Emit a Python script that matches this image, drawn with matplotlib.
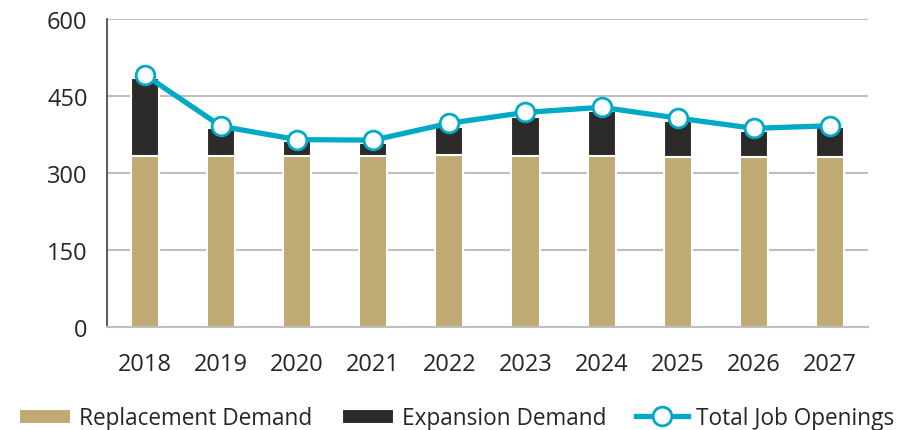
import matplotlib.pyplot as plt
import numpy as np

plt.rcParams['font.family'] = ['Open Sans', 'DejaVu Sans']

years = ['2018', '2019', '2020', '2021', '2022', '2023', '2024', '2025', '2026', '2027']
replacement = [334, 333, 334, 333, 335, 333, 334, 332, 331, 332]
expansion = [152, 55, 29, 25, 54, 77, 86, 70, 51, 57]
total = [491, 391, 365, 364, 397, 418, 428, 407, 387, 392]

fig = plt.figure(figsize=(9.19, 4.31), dpi=100)
ax = fig.add_axes([0.1164, 0.239, 0.828, 0.7146])

x = np.arange(len(years))
w = 0.37
b1 = ax.bar(x, replacement, w, color='#BFAA74', edgecolor='white', linewidth=1.5,
            label='Replacement Demand', zorder=2)
b2 = ax.bar(x, expansion, w, bottom=replacement, color='#2D2B29', edgecolor='white',
            linewidth=1.5, label='Expansion Demand', zorder=2)
ln, = ax.plot(x, total, color='#00A9C6', linewidth=3.8, marker='o', markersize=13.5,
              markerfacecolor='white', markeredgecolor='#00A9C6', markeredgewidth=2,
              label='Total Job Openings', zorder=3)

ax.set_xlim(-0.5, 9.5)
ax.set_ylim(0, 600)
ax.set_yticks([0, 150, 300, 450, 600])
ax.set_xticks(x)
ax.set_xticklabels(years)
ax.yaxis.grid(True, color='#BFBFBF', linewidth=1.5, zorder=0)
ax.set_axisbelow(True)
for s in ['top', 'right']:
    ax.spines[s].set_visible(False)
ax.spines['left'].set_color('#404040')
ax.spines['left'].set_linewidth(1.2)
ax.spines['bottom'].set_color('#BFBFBF')
ax.spines['bottom'].set_linewidth(1.5)
ax.tick_params(axis='both', length=0, labelsize=17, colors='#262626')
ax.tick_params(axis='y', pad=14)
ax.tick_params(axis='x', pad=18)

fig.legend([b1, b2, ln], ['Replacement Demand', 'Expansion Demand', 'Total Job Openings'],
           loc='center', ncol=3, frameon=False, fontsize=16.3,
           bbox_to_anchor=(0.497, 0.027), handlelength=2.3, columnspacing=1.3,
           handletextpad=0.35, labelcolor='#262626', borderaxespad=0)

fig.savefig('out.png', dpi=100)
